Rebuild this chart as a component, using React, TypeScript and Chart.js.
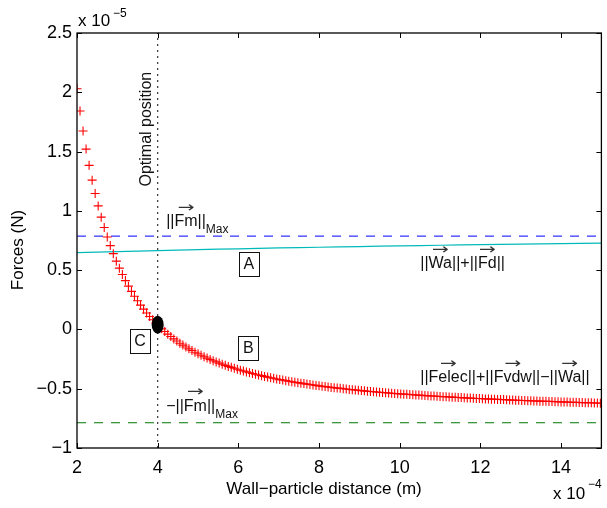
import React, { useEffect, useRef } from 'react';
import { Chart, registerables } from 'chart.js';

Chart.register(...registerables);

const FONT = '"Liberation Sans", Arial, Helvetica, sans-serif';
const ARROW_FONT = '"DejaVu Sans", "Liberation Sans", sans-serif';

// Wall-particle distance (x 1e-4 m)
const distance = [
  2.000, 2.075, 2.150, 2.225, 2.300, 2.375, 2.450, 2.525, 2.600, 2.675,
  2.750, 2.825, 2.900, 2.975, 3.050, 3.125, 3.200, 3.275, 3.350, 3.425,
  3.500, 3.575, 3.650, 3.725, 3.800, 3.875, 3.950, 4.025, 4.100, 4.175,
  4.250, 4.325, 4.400, 4.475, 4.550, 4.625, 4.700, 4.775, 4.850, 4.925,
  5.000, 5.075, 5.150, 5.225, 5.300, 5.375, 5.450, 5.525, 5.600, 5.675,
  5.750, 5.825, 5.900, 5.975, 6.050, 6.125, 6.200, 6.275, 6.350, 6.425,
  6.500, 6.575, 6.650, 6.725, 6.800, 6.875, 6.950, 7.025, 7.100, 7.175,
  7.250, 7.325, 7.400, 7.475, 7.550, 7.625, 7.700, 7.775, 7.850, 7.925,
  8.000, 8.075, 8.150, 8.225, 8.300, 8.375, 8.450, 8.525, 8.600, 8.675,
  8.750, 8.825, 8.900, 8.975, 9.050, 9.125, 9.200, 9.275, 9.350, 9.425,
  9.500, 9.575, 9.650, 9.725, 9.800, 9.875, 9.950, 10.025, 10.100, 10.175,
  10.250, 10.325, 10.400, 10.475, 10.550, 10.625, 10.700, 10.775, 10.850, 10.925,
  11.000, 11.075, 11.150, 11.225, 11.300, 11.375, 11.450, 11.525, 11.600, 11.675,
  11.750, 11.825, 11.900, 11.975, 12.050, 12.125, 12.200, 12.275, 12.350, 12.425,
  12.500, 12.575, 12.650, 12.725, 12.800, 12.875, 12.950, 13.025, 13.100, 13.175,
  13.250, 13.325, 13.400, 13.475, 13.550, 13.625, 13.700, 13.775, 13.850, 13.925,
  14.000, 14.075, 14.150, 14.225, 14.300, 14.375, 14.450, 14.525, 14.600, 14.675,
  14.750, 14.825, 14.900, 14.975,
];

// ||Felec|| + ||Fvdw|| - ||Wa||  (x 1e-5 N)
const netForce = [
  2.030, 1.842, 1.673, 1.521, 1.384, 1.259, 1.146, 1.042, 0.947, 0.860,
  0.780, 0.707, 0.639, 0.576, 0.517, 0.463, 0.412, 0.365, 0.321, 0.280,
  0.242, 0.205, 0.171, 0.139, 0.109, 0.081, 0.054, 0.029, 0.005, -0.018,
  -0.040, -0.060, -0.080, -0.098, -0.116, -0.132, -0.148, -0.164, -0.178, -0.192,
  -0.205, -0.218, -0.230, -0.242, -0.253, -0.264, -0.274, -0.284, -0.294, -0.303,
  -0.312, -0.320, -0.328, -0.336, -0.344, -0.351, -0.358, -0.365, -0.372, -0.378,
  -0.384, -0.390, -0.396, -0.402, -0.407, -0.412, -0.418, -0.423, -0.427, -0.432,
  -0.437, -0.441, -0.445, -0.449, -0.453, -0.457, -0.461, -0.465, -0.469, -0.472,
  -0.476, -0.479, -0.482, -0.485, -0.489, -0.492, -0.495, -0.497, -0.500, -0.503,
  -0.506, -0.508, -0.511, -0.513, -0.516, -0.518, -0.521, -0.523, -0.525, -0.528,
  -0.530, -0.532, -0.534, -0.536, -0.538, -0.540, -0.542, -0.544, -0.546, -0.547,
  -0.549, -0.551, -0.553, -0.554, -0.556, -0.558, -0.559, -0.561, -0.562, -0.564,
  -0.566, -0.567, -0.568, -0.570, -0.571, -0.573, -0.574, -0.575, -0.577, -0.578,
  -0.579, -0.581, -0.582, -0.583, -0.584, -0.586, -0.587, -0.588, -0.589, -0.590,
  -0.591, -0.592, -0.593, -0.595, -0.596, -0.597, -0.598, -0.599, -0.600, -0.601,
  -0.602, -0.603, -0.604, -0.605, -0.606, -0.606, -0.607, -0.608, -0.609, -0.610,
  -0.611, -0.612, -0.613, -0.614, -0.614, -0.615, -0.616, -0.617, -0.618, -0.619,
  -0.619, -0.620, -0.621, -0.622,
];

// ||Wa|| + ||Fd||
const resistDistance = [2, 3, 4, 5, 6, 7, 8, 9, 10, 11, 12, 13, 14, 15];
const resistForce = [0.648, 0.657, 0.665, 0.673, 0.680, 0.687, 0.693, 0.699, 0.705, 0.710, 0.715, 0.720, 0.724, 0.728];

const fmMax = 0.787;
const optimalDistance = 4;
const optimalForce = 0.04;

const xMin = 2;
const xMax = 15;
const yMin = -1;
const yMax = 2.5;
const xTickValues = [2, 4, 6, 8, 10, 12, 14];
const yTickValues = [-1, -0.5, 0, 0.5, 1, 1.5, 2, 2.5];

type Seg = { t: string; vec?: boolean; sub?: boolean };
type MathLabel = { x: number; y: number; segs: Seg[] };

const mathLabels: MathLabel[] = [
  { x: 4.21, y: 0.872, segs: [{ t: '||' }, { t: 'Fm', vec: true }, { t: '||' }, { t: 'Max', sub: true }] },
  { x: 4.21, y: -0.684, segs: [{ t: '\u2212||' }, { t: 'Fm', vec: true }, { t: '||' }, { t: 'Max', sub: true }] },
  { x: 10.51, y: 0.518, segs: [{ t: '||' }, { t: 'Wa', vec: true }, { t: '||+||' }, { t: 'Fd', vec: true }, { t: '||' }] },
  {
    x: 10.51,
    y: -0.447,
    segs: [
      { t: '||' }, { t: 'Felec', vec: true }, { t: '||+||' }, { t: 'Fvdw', vec: true },
      { t: '||\u2212||' }, { t: 'Wa', vec: true }, { t: '||' },
    ],
  },
];

const boxLabels = [
  { t: 'A', x: 6.26, y: 0.552 },
  { t: 'B', x: 6.25, y: -0.157 },
  { t: 'C', x: 3.56, y: -0.098 },
];

const fmtTick = (v: number) => (v < 0 ? '\u2212' + String(-v) : String(v));

function drawMath(ctx: CanvasRenderingContext2D, x0: number, base: number, segs: Seg[]) {
  let cx = x0;
  for (const s of segs) {
    const fs = s.sub ? 12 : 16;
    ctx.font = `${fs}px ${FONT}`;
    ctx.textAlign = 'left';
    ctx.textBaseline = 'alphabetic';
    const w = ctx.measureText(s.t).width;
    ctx.fillText(s.t, cx, s.sub ? base + 7 : base);
    if (s.vec) {
      ctx.save();
      ctx.translate(cx + w / 2, base - 18);
      ctx.scale(1.35, 1);
      ctx.font = `15px ${ARROW_FONT}`;
      ctx.textAlign = 'center';
      ctx.textBaseline = 'middle';
      ctx.fillStyle = '#333';
      ctx.fillText('\u2192', 0, 0);
      ctx.restore();
    }
    cx += w;
  }
}

const overlayPlugin = {
  id: 'overlay',
  afterDatasetsDraw(chart: any) {
    const { ctx, chartArea: a } = chart;
    const xs = chart.scales.x;
    const ys = chart.scales.y;
    ctx.save();

    // optimal point marker
    ctx.fillStyle = '#000';
    ctx.beginPath();
    ctx.ellipse(xs.getPixelForValue(optimalDistance), ys.getPixelForValue(optimalForce), 6, 9, 0, 0, Math.PI * 2);
    ctx.fill();

    // axes box
    ctx.strokeStyle = '#000';
    ctx.lineWidth = 1.3;
    ctx.strokeRect(a.left, a.top, a.right - a.left, a.bottom - a.top);

    // inward ticks
    ctx.lineWidth = 1;
    ctx.beginPath();
    for (const v of xTickValues) {
      const px = Math.round(xs.getPixelForValue(v)) + 0.5;
      ctx.moveTo(px, a.bottom);
      ctx.lineTo(px, a.bottom - 5);
      ctx.moveTo(px, a.top);
      ctx.lineTo(px, a.top + 5);
    }
    for (const v of yTickValues) {
      const py = Math.round(ys.getPixelForValue(v)) + 0.5;
      ctx.moveTo(a.left, py);
      ctx.lineTo(a.left + 5, py);
      ctx.moveTo(a.right, py);
      ctx.lineTo(a.right - 5, py);
    }
    ctx.stroke();

    // boxed letters
    ctx.font = `16px ${FONT}`;
    ctx.textAlign = 'center';
    ctx.textBaseline = 'middle';
    for (const b of boxLabels) {
      const cx = xs.getPixelForValue(b.x);
      const cy = ys.getPixelForValue(b.y);
      ctx.fillStyle = '#fff';
      ctx.fillRect(cx - 10, cy - 12, 20, 24);
      ctx.strokeStyle = '#111';
      ctx.lineWidth = 1;
      ctx.strokeRect(Math.round(cx - 10) + 0.5, Math.round(cy - 12) + 0.5, 20, 24);
      ctx.fillStyle = '#111';
      ctx.fillText(b.t, cx, cy + 1);
    }

    // vector labels
    ctx.fillStyle = '#111';
    for (const m of mathLabels) {
      drawMath(ctx, xs.getPixelForValue(m.x), ys.getPixelForValue(m.y), m.segs);
    }

    // Optimal position (rotated)
    ctx.save();
    ctx.translate(xs.getPixelForValue(3.84), ys.getPixelForValue(1.689));
    ctx.rotate(-Math.PI / 2);
    ctx.font = `16px ${FONT}`;
    ctx.textAlign = 'center';
    ctx.textBaseline = 'alphabetic';
    ctx.fillStyle = '#111';
    ctx.fillText('Optimal position', 0, 0);
    ctx.restore();

    // axis titles
    ctx.fillStyle = '#000';
    ctx.font = `17px ${FONT}`;
    ctx.textAlign = 'center';
    ctx.textBaseline = 'middle';
    ctx.fillText('Wall\u2212particle distance (m)', 324, 489);
    ctx.save();
    ctx.translate(18, 250);
    ctx.rotate(-Math.PI / 2);
    ctx.fillText('Forces (N)', 0, 0);
    ctx.restore();

    // exponents
    ctx.textAlign = 'left';
    ctx.textBaseline = 'alphabetic';
    ctx.font = `17px ${FONT}`;
    ctx.fillText('x 10', 78, 26);
    ctx.font = `12px ${FONT}`;
    ctx.fillText('\u22125', 113, 17);
    ctx.font = `17px ${FONT}`;
    ctx.fillText('x 10', 553, 499);
    ctx.font = `12px ${FONT}`;
    ctx.fillText('\u22124', 588, 488);

    ctx.restore();
  },
};

export default function App() {
  const ref = useRef<HTMLCanvasElement | null>(null);

  useEffect(() => {
    if (!ref.current) return;
    const chart = new Chart(ref.current, {
      type: 'scatter',
      data: {
        datasets: [
          {
            label: 'net',
            data: distance.map((d, i) => ({ x: d, y: netForce[i] })),
            showLine: false,
            pointStyle: 'cross',
            pointRadius: 4.5,
            pointBorderWidth: 1.1,
            borderColor: 'rgb(255,0,0)',
            backgroundColor: 'rgb(255,0,0)',
          },
          {
            label: 'resist',
            data: resistDistance.map((d, i) => ({ x: d, y: resistForce[i] })),
            showLine: true,
            pointRadius: 0,
            borderWidth: 1.2,
            borderColor: 'rgb(0,185,185)',
            tension: 0.3,
          },
          {
            label: 'fmMax',
            data: [{ x: xMin, y: fmMax }, { x: xMax, y: fmMax }],
            showLine: true,
            pointRadius: 0,
            borderWidth: 1,
            borderColor: 'rgb(0,0,255)',
            borderDash: [9, 8],
          },
          {
            label: 'fmMin',
            data: [{ x: xMin, y: -fmMax }, { x: xMax, y: -fmMax }],
            showLine: true,
            pointRadius: 0,
            borderWidth: 1,
            borderColor: 'rgb(0,120,0)',
            borderDash: [9, 8],
          },
          {
            label: 'optimal',
            data: [{ x: optimalDistance, y: yMin }, { x: optimalDistance, y: yMax }],
            showLine: true,
            pointRadius: 0,
            borderWidth: 1.2,
            borderColor: '#333',
            borderDash: [2, 4],
          },
        ],
      },
      options: {
        animation: false,
        responsive: false,
        maintainAspectRatio: false,
        layout: { padding: { top: 33, right: 2, left: 0, bottom: 0 } },
        plugins: { legend: { display: false }, tooltip: { enabled: false } },
        scales: {
          x: {
            type: 'linear',
            min: xMin,
            max: xMax,
            grid: { display: false, drawTicks: false },
            border: { display: false },
            afterBuildTicks: (s: any) => {
              s.ticks = xTickValues.map((v) => ({ value: v }));
            },
            afterFit: (s: any) => {
              s.height = 60;
            },
            ticks: {
              autoSkip: false,
              maxRotation: 0,
              padding: 9,
              color: '#000',
              font: { family: FONT, size: 18 },
              callback: (v: any) => fmtTick(Number(v)),
            },
          },
          y: {
            type: 'linear',
            min: yMin,
            max: yMax,
            grid: { display: false, drawTicks: false },
            border: { display: false },
            afterBuildTicks: (s: any) => {
              s.ticks = yTickValues.map((v) => ({ value: v }));
            },
            afterFit: (s: any) => {
              s.width = 77;
            },
            ticks: {
              autoSkip: false,
              padding: 5,
              color: '#000',
              font: { family: FONT, size: 18 },
              callback: (v: any) => fmtTick(Number(v)),
            },
          },
        },
      },
      plugins: [overlayPlugin],
    });
    return () => chart.destroy();
  }, []);

  return (
    <div style={{ position: 'fixed', left: 0, top: 0, width: 607, height: 508, background: '#fff' }}>
      <canvas ref={ref} width={607} height={508} style={{ display: 'block', width: 607, height: 508 }} />
    </div>
  );
}
